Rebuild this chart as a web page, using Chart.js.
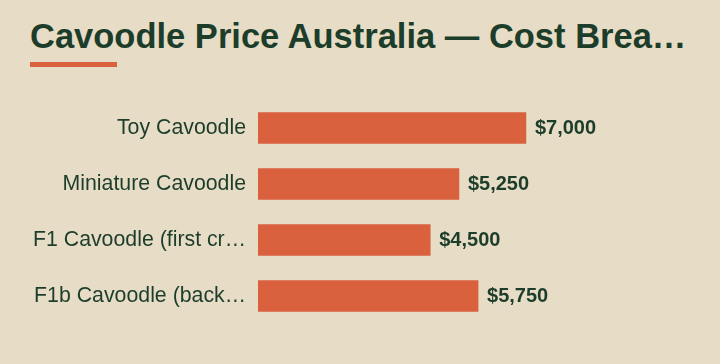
<!DOCTYPE html>
<html>
<head>
<meta charset="utf-8">
<script src="https://cdn.jsdelivr.net/npm/chart.js@4"></script>
<style>
    html, body { margin: 0; padding: 0; }
    body { width: 720px; height: 364px; background: #e7dcc5; position: relative; overflow: hidden; font-family: "Liberation Sans", Arial, sans-serif; }
    h1 { position: absolute; left: 30px; top: 18px; width: 662px; margin: 0; font-size: 34.5px; line-height: 36px; font-weight: bold; color: #1d3d2b; white-space: nowrap; overflow: hidden; text-overflow: ellipsis; }
    .accent { position: absolute; left: 30px; top: 62px; width: 87px; height: 5px; background: #da613d; }
    #wrap { position: absolute; left: 0; top: 0; width: 720px; height: 364px; }
</style>
</head>
<body>
<h1>Cavoodle Price Australia — Cost Breakdown</h1>
<div class="accent"></div>
<div id="wrap"><canvas id="priceChart"></canvas></div>
<script>
let categories = ['Toy Cavoodle', 'Miniature Cavoodle', 'F1 Cavoodle (first cr…', 'F1b Cavoodle (back…'];
let prices = [7000, 5250, 4500, 5750];

const barColor = '#da613d',
    textColor = '#1d3d2b';

// write the $ value just past the end of each bar
const valueLabels = {
    id: 'valueLabels',
    afterDatasetsDraw(chart) {
        let ctx = chart.ctx;
        ctx.save();
        ctx.font = 'bold 20px "Liberation Sans", Arial, sans-serif';
        ctx.fillStyle = textColor;
        ctx.textAlign = 'left';
        ctx.textBaseline = 'middle';
        chart.getDatasetMeta(0).data.forEach(function (bar, i) {
            ctx.fillText('$' + prices[i].toLocaleString('en-US'), bar.x + 9, bar.y);
        });
        ctx.restore();
    }
};

let ctx = document.getElementById('priceChart'),
    myChart = new Chart(ctx, {
        type: 'bar',
        data: {
            labels: categories,
            datasets: [{
                data: prices,
                backgroundColor: barColor,
                borderWidth: 0,
                barThickness: 31
            }]
        },
        options: {
            indexAxis: 'y',
            responsive: true,
            maintainAspectRatio: false,
            animation: false,
            layout: { padding: { top: 100, bottom: 40, left: 0, right: 41 } },
            plugins: { legend: { display: false }, tooltip: { enabled: false } },
            scales: {
                x: { display: false, min: 0, max: 11000 },
                y: {
                    grid: { display: false, drawTicks: false },
                    border: { display: false },
                    afterFit: function (scale) { scale.width = 258; },
                    ticks: {
                        padding: 12,
                        color: textColor,
                        font: { family: '"Liberation Sans", Arial, sans-serif', size: 21.3 }
                    }
                }
            }
        },
        plugins: [valueLabels]
    });
</script>
</body>
</html>
